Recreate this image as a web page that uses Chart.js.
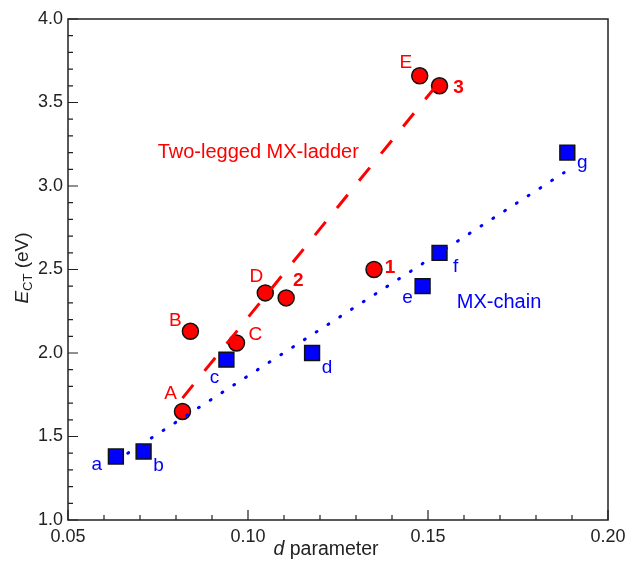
<!DOCTYPE html>
<html>
<head>
<meta charset="utf-8">
<script src="https://cdn.jsdelivr.net/npm/chart.js@4.4.1/dist/chart.umd.min.js"></script>
<style>
  html, body { margin: 0; padding: 0; background: #fff; }
  #wrap { width: 629px; height: 565px; }
</style>
</head>
<body>
<div id="wrap"><canvas id="chart" width="629" height="565"></canvas></div>
<script>
// Two-legged MX-ladder compounds (red circles)
const ladderNames = ['A', 'B', 'C', 'D', '2', '1', 'E', '3'];
const ladderD = [0.0818, 0.0840, 0.0968, 0.1048, 0.1106, 0.1350, 0.1477, 0.1532];
const ladderE = [1.65, 2.13, 2.06, 2.36, 2.33, 2.50, 3.66, 3.60];

// MX-chain compounds (blue squares)
const chainNames = ['a', 'b', 'c', 'd', 'e', 'f', 'g'];
const chainD = [0.0633, 0.0710, 0.0940, 0.1178, 0.1485, 0.1532, 0.1887];
const chainE = [1.38, 1.41, 1.96, 2.00, 2.40, 2.60, 3.20];

// Guide lines (end points)
const ladderFitD = [0.0818, 0.1538];
const ladderFitE = [1.73, 3.64];
const chainFitD = [0.0666, 0.1878];
const chainFitE = [1.40, 3.08];

// Axis ranges / ticks
const xMin = 0.05, xMax = 0.20, xStep = 0.05, xMinorStep = 0.01;
const yMin = 1.0, yMax = 4.0, yStep = 0.5, yMinorStep = 0.1;

// label placement (pixel offsets from the point)
const ladderLabelOffsets = [[-12, -18], [-15, -11], [19, -8], [-9, -16], [12, -17], [16, -2], [-14, -13], [19, 2]];
const chainLabelOffsets = [[-19, 8], [15, 14], [-12, 18], [15, 15], [-15, 12], [16, 14], [15, 10]];

const RED = '#ff0000';
const BLUE = '#0000ff';
const FONT = '"Liberation Sans", Arial, Helvetica, sans-serif';

function toPoints(xs, ys) {
  return xs.map((x, i) => ({ x: x, y: ys[i] }));
}

// Frame, inward ticks, point labels and axis titles
const decorPlugin = {
  id: 'decor',
  afterDatasetsDraw(chart) {
    const ctx = chart.ctx;
    const area = chart.chartArea;
    const xs = chart.scales.x;
    const ys = chart.scales.y;
    ctx.save();

    // frame
    ctx.strokeStyle = '#222';
    ctx.lineWidth = 1.5;
    ctx.strokeRect(area.left, area.top, area.right - area.left, area.bottom - area.top);

    // ticks pointing inward
    ctx.lineWidth = 1.2;
    ctx.beginPath();
    const nx = Math.round((xMax - xMin) / xMinorStep);
    for (let i = 0; i <= nx; i++) {
      const v = xMin + i * xMinorStep;
      const px = xs.getPixelForValue(v);
      const len = (i % 5 === 0) ? 10 : 5;
      ctx.moveTo(px, area.bottom);
      ctx.lineTo(px, area.bottom - len);
    }
    const ny = Math.round((yMax - yMin) / yMinorStep);
    for (let i = 0; i <= ny; i++) {
      const v = yMin + i * yMinorStep;
      const py = ys.getPixelForValue(v);
      const len = (i % 5 === 0) ? 10 : 5;
      ctx.moveTo(area.left, py);
      ctx.lineTo(area.left + len, py);
    }
    ctx.stroke();

    // point labels
    ctx.textAlign = 'center';
    ctx.textBaseline = 'middle';
    function drawLabels(names, xsData, ysData, offsets, color) {
      ctx.fillStyle = color;
      names.forEach((name, i) => {
        const bold = /[0-9]/.test(name);
        ctx.font = (bold ? 'bold ' : '') + '19px ' + FONT;
        const px = xs.getPixelForValue(xsData[i]) + offsets[i][0];
        const py = ys.getPixelForValue(ysData[i]) + offsets[i][1];
        ctx.fillText(name, px, py);
      });
    }
    drawLabels(ladderNames, ladderD, ladderE, ladderLabelOffsets, RED);
    drawLabels(chainNames, chainD, chainE, chainLabelOffsets, BLUE);

    // series annotations
    ctx.textAlign = 'left';
    ctx.font = '20px ' + FONT;
    ctx.fillStyle = RED;
    ctx.fillText('Two-legged MX-ladder', xs.getPixelForValue(0.0749), ys.getPixelForValue(3.20));
    ctx.fillStyle = BLUE;
    ctx.fillText('MX-chain', xs.getPixelForValue(0.158), ys.getPixelForValue(2.305));

    // x axis title: "d parameter" with italic d
    ctx.fillStyle = '#222';
    const cx = 326;
    const tyX = 550;
    ctx.font = 'italic 19.5px ' + FONT;
    const wD = ctx.measureText('d').width;
    ctx.font = '19.5px ' + FONT;
    const wRest = ctx.measureText(' parameter').width;
    const sx = cx - (wD + wRest) / 2;
    ctx.font = 'italic 19.5px ' + FONT;
    ctx.fillText('d', sx, tyX);
    ctx.font = '19.5px ' + FONT;
    ctx.fillText(' parameter', sx + wD, tyX);

    // y axis title: "E_CT (eV)" rotated
    ctx.translate(23, 268);
    ctx.rotate(-Math.PI / 2);
    ctx.font = 'italic 19px ' + FONT;
    const wE = ctx.measureText('E').width;
    ctx.font = '13px ' + FONT;
    const wCT = ctx.measureText('CT').width;
    ctx.font = '19px ' + FONT;
    const wEv = ctx.measureText(' (eV)').width;
    const ex = -(wE + wCT + wEv) / 2;
    ctx.font = 'italic 19px ' + FONT;
    ctx.fillText('E', ex, 0);
    ctx.font = '13px ' + FONT;
    ctx.fillText('CT', ex + wE, 5);
    ctx.font = '19px ' + FONT;
    ctx.fillText(' (eV)', ex + wE + wCT, 0);

    ctx.restore();
  }
};

const chart = new Chart(document.getElementById('chart'), {
  type: 'scatter',
  data: {
    datasets: [
      {
        label: 'Two-legged MX-ladder fit',
        type: 'line',
        data: toPoints(ladderFitD, ladderFitE),
        borderColor: RED,
        borderWidth: 3,
        borderDash: [17, 18],
        borderCapStyle: 'butt',
        pointRadius: 0,
        fill: false,
        order: 0
      },
      {
        label: 'MX-chain fit',
        type: 'line',
        data: toPoints(chainFitD, chainFitE),
        borderColor: BLUE,
        borderWidth: 3,
        borderDash: [1, 13],
        borderCapStyle: 'round',
        pointRadius: 0,
        fill: false,
        order: 1
      },
      {
        label: 'Two-legged MX-ladder',
        data: toPoints(ladderD, ladderE),
        pointStyle: 'circle',
        pointRadius: 8,
        pointHoverRadius: 8,
        backgroundColor: RED,
        borderColor: '#111',
        borderWidth: 1.5,
        order: 2
      },
      {
        label: 'MX-chain',
        data: toPoints(chainD, chainE),
        pointStyle: 'rect',
        pointRadius: 10.5,
        pointHoverRadius: 10.5,
        backgroundColor: BLUE,
        borderColor: '#111',
        borderWidth: 1.5,
        order: 3
      }
    ]
  },
  options: {
    responsive: false,
    animation: false,
    layout: { padding: { top: 19, right: 21, left: 0, bottom: 0 } },
    plugins: {
      legend: { display: false },
      tooltip: { enabled: false }
    },
    scales: {
      x: {
        type: 'linear',
        min: xMin,
        max: xMax,
        grid: { display: false, drawTicks: false },
        border: { display: false },
        ticks: {
          stepSize: xStep,
          padding: 6,
          color: '#222',
          font: { family: FONT, size: 18 },
          maxRotation: 0,
          callback: (v) => v.toFixed(2)
        },
        afterFit: (scale) => {
          scale.height = 45;
          scale.paddingRight = 0;
          scale.paddingLeft = 0;
        }
      },
      y: {
        type: 'linear',
        min: yMin,
        max: yMax,
        grid: { display: false, drawTicks: false },
        border: { display: false },
        ticks: {
          stepSize: yStep,
          padding: 5,
          color: '#222',
          font: { family: FONT, size: 18 },
          callback: (v) => v.toFixed(1)
        },
        afterFit: (scale) => { scale.width = 68; }
      }
    }
  },
  plugins: [decorPlugin]
});
</script>
</body>
</html>
